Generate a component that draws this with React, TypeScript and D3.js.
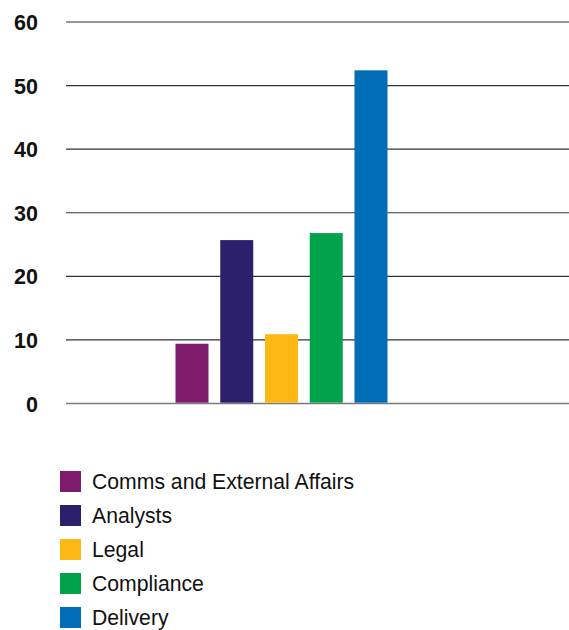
import React from "react";
import * as d3 from "d3";

const categories = ["Comms and External Affairs", "Analysts", "Legal", "Compliance", "Delivery"];
const values = [9.4, 25.7, 10.9, 26.8, 52.4];
const colors = ["#7E1B6D", "#2C1F6C", "#FDB813", "#00A349", "#006DB6"];
const yTicks = [0, 10, 20, 30, 40, 50, 60];

export default function App() {
  const W = 569;
  const H = 630;
  const plotLeft = 66;
  const plotRight = 569;
  const y = d3.scaleLinear().domain([0, 60]).range([403.5, 22]);
  const x = d3.scalePoint<string>().domain(categories).range([192, 371]);
  const bw = 33;

  return (
    <svg
      width={W}
      height={H}
      style={{ position: "absolute", left: 0, top: 0, fontFamily: "Liberation Sans, Arial, sans-serif" }}
    >
      <rect width={W} height={H} fill="#fff" />
      {yTicks.map((t) => (
        <g key={t}>
          <line
            x1={plotLeft}
            x2={plotRight}
            y1={y(t)}
            y2={y(t)}
            stroke={t === 0 ? "#7a7a7a" : "#333"}
            strokeWidth={t === 0 ? 1.6 : 1.2}
          />
          <text
            x={38}
            y={y(t) + 8}
            textAnchor="end"
            fontSize={21.5}
            fontWeight="bold"
            fill="#111"
          >
            {t}
          </text>
        </g>
      ))}
      {categories.map((c, i) => {
        const cx = x(c) as number;
        return (
          <rect
            key={c}
            x={cx - bw / 2}
            y={y(values[i])}
            width={bw}
            height={y(0) - y(values[i]) - 0.8}
            fill={colors[i]}
          />
        );
      })}
      {categories.map((c, i) => (
        <g key={"lg" + c} transform={`translate(60, ${471 + i * 34})`}>
          <rect width={21} height={21} fill={colors[i]} />
          <text x={32} y={18} fontSize={21.2} fill="#111">
            {c}
          </text>
        </g>
      ))}
    </svg>
  );
}
